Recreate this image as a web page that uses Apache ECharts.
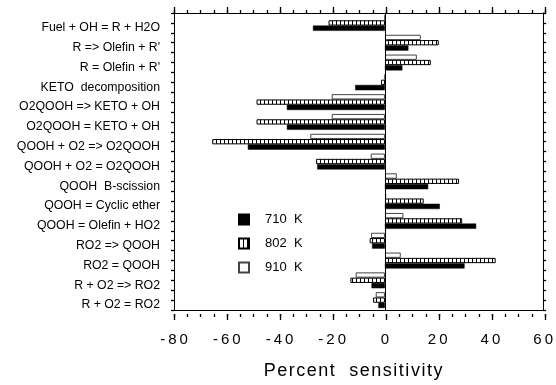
<!DOCTYPE html>
<html><head><meta charset="utf-8">
<script src="https://cdn.jsdelivr.net/npm/echarts@6/dist/echarts.min.js"></script>
<style>html,body{margin:0;padding:0;background:#fff}#c{width:556px;height:385px}</style>
</head><body><div id="c"></div>
<script>
const categories = [
  "Fuel + OH = R + H2O",
  "R => Olefin + R'",
  "R = Olefin + R'",
  "KETO  decomposition",
  "O2QOOH => KETO + OH",
  "O2QOOH = KETO + OH",
  "QOOH + O2 => O2QOOH",
  "QOOH + O2 = O2QOOH",
  "QOOH  B-scission",
  "QOOH = Cyclic ether",
  "QOOH = Olefin + HO2",
  "RO2 => QOOH",
  "RO2 = QOOH",
  "R + O2 => RO2",
  "R + O2 = RO2"
];
const seriesNames = ["710  K", "802  K", "910  K"];
const values710 = [-27.3, 8.9, 6.6, -11.3, -37.2, -37.2, -52, -25.7, 16.4, 20.8, 34.6, -4.9, 30.2, -5.1, -2.5];
const values802 = [-21.4, 20.4, 17.4, -1.5, -48.7, -48.7, -65.5, -26.1, 28.1, 14.7, 29.3, -5.8, 42.0, -13.1, -4.5];
const values910 = [0, 13.6, 12.1, 0, -20.2, -20.2, -28.3, -5.4, 4.5, 0.5, 7.0, -5.3, 6.0, -11.1, -3.5];
const xTicks = { min: -80, max: 60, interval: 20, minorInterval: 5 };
const xTitle = "Percent  sensitivity";

const FONT = "'Liberation Sans', Arial, Helvetica, sans-serif";
const hc = document.createElement('canvas');
hc.width = 4; hc.height = 4;
const hx = hc.getContext('2d');
hx.fillStyle = '#fff'; hx.fillRect(0, 0, 4, 4);
hx.fillStyle = '#000'; hx.fillRect(0, 0, 1, 4);
const hatch = { image: hc, repeat: 'repeat' };

function spaced(s, sep) { return String(s).split('').join(sep); }

const TICK = { color: '#000', width: 1.3 };
const GRID = { left: 174, right: 11, top: 13, bottom: 71, containLabel: false };
function tickAxis(gridIndex, pos, interval, len, showLine) {
  return {
    type: 'value', gridIndex: gridIndex, position: pos, min: xTicks.min, max: xTicks.max, interval: interval,
    axisLine: { show: showLine, onZero: false, lineStyle: { color: '#000', width: 1 } },
    axisTick: { show: true, inside: false, length: len, lineStyle: { color: '#000', width: 1.3 } },
    splitLine: { show: false },
    axisLabel: { show: false }
  };
}
const chart = echarts.init(document.getElementById('c'), null, { renderer: 'canvas' });
const barW = 5.3;
const option = {
  animation: false,
  textStyle: { fontFamily: FONT, color: '#000' },
  grid: [Object.assign({}, GRID), Object.assign({}, GRID), Object.assign({}, GRID)],
  legend: {
    orient: 'vertical', left: 238, top: 213, padding: 0,
    itemWidth: 10, itemHeight: 10, itemGap: 11,
    icon: 'rect',
    data: [seriesNames[0], seriesNames[1], seriesNames[2]],
    textStyle: { fontFamily: FONT, fontSize: 13, color: '#000', padding: [0, 0, 0, 11] }
  },
  xAxis: [
    {
      type: 'value', gridIndex: 0, position: 'bottom', min: xTicks.min, max: xTicks.max, interval: xTicks.interval,
      axisLine: { show: true, onZero: false, lineStyle: { color: '#000', width: 1 } },
      axisTick: { show: false },
      splitLine: { show: false },
      axisLabel: { fontSize: 15, color: '#000', margin: 22, fontFamily: FONT,
        formatter: v => spaced(v, '\u2009') },
      name: spaced(xTitle, '\u200A'), nameLocation: 'middle', nameGap: 52,
      nameTextStyle: { fontSize: 18, color: '#000', fontFamily: FONT, padding: [0, 11, 0, 0] }
    },
    tickAxis(1, 'top', xTicks.interval, 6, true),
    tickAxis(1, 'bottom', xTicks.minorInterval, 3, false),
    tickAxis(2, 'top', xTicks.minorInterval, 3, false),
    tickAxis(2, 'bottom', xTicks.interval, 6, false)
  ],
  yAxis: [
    {
      type: 'category', gridIndex: 0, data: categories, inverse: true, position: 'left',
      axisLine: { show: true, onZero: false, lineStyle: { color: '#000', width: 1 } },
      axisTick: { show: false },
      axisLabel: { fontSize: 12.3, color: '#000', margin: 14, fontFamily: FONT,
        verticalAlign: 'top', lineHeight: 10 }
    },
    {
      type: 'value', gridIndex: 0, position: 'left', min: 0, max: 30, interval: 1,
      axisLine: { show: false, onZero: false },
      axisTick: { show: true, inside: false, length: 3, lineStyle: TICK },
      axisLabel: { show: false }, splitLine: { show: false }
    },
    {
      type: 'value', gridIndex: 0, position: 'right', min: 0, max: 30, interval: 1,
      axisLine: { show: true, onZero: false, lineStyle: { color: '#000', width: 1 } },
      axisTick: { show: true, inside: false, length: 3, lineStyle: TICK },
      axisLabel: { show: false }, splitLine: { show: false }
    },
    { type: 'value', gridIndex: 1, position: 'left', min: 0, max: 1, show: false },
    { type: 'value', gridIndex: 2, position: 'left', min: 0, max: 1, show: false }
  ],
  series: [
    {
      name: seriesNames[2], type: 'bar', data: values910, barWidth: barW, barGap: '0%',
      itemStyle: { color: '#fff', borderColor: '#444', borderWidth: 1 },
      markLine: { silent: true, symbol: 'none', label: { show: false },
        lineStyle: { color: '#000', width: 1, type: 'solid' }, data: [{ xAxis: 0 }] }
    },
    {
      name: seriesNames[1], type: 'bar', data: values802, barWidth: barW, barGap: '0%',
      itemStyle: { color: hatch, borderColor: '#000', borderWidth: 1 }
    },
    {
      name: seriesNames[0], type: 'bar', data: values710, barWidth: barW, barGap: '0%',
      itemStyle: { color: '#000', borderColor: '#000', borderWidth: 0.5 }
    }
  ]
};
chart.setOption(option);
</script></body></html>
